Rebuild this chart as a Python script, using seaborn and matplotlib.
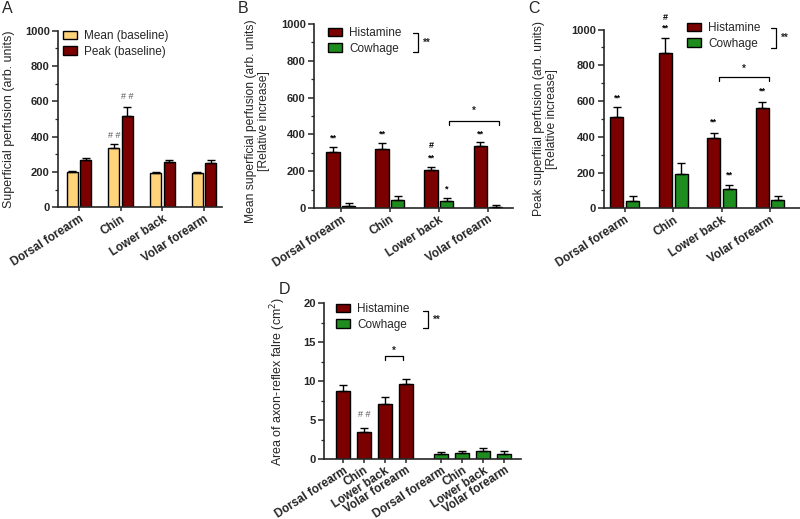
import numpy as np
import pandas as pd
import matplotlib
matplotlib.use("Agg")
import matplotlib.pyplot as plt
import seaborn as sns
from matplotlib.patches import Patch
from matplotlib.lines import Line2D
from matplotlib.ticker import MultipleLocator

# ---------------- data ----------------
sites = ["Dorsal forearm", "Chin", "Lower back", "Volar forearm"]

a_mean = [200, 335, 195, 193]
a_mean_err = [7, 22, 5, 9]
a_peak = [268, 518, 255, 252]
a_peak_err = [12, 52, 11, 15]

b_hist = [304, 322, 206, 339]
b_hist_err = [29, 33, 19, 20]
b_cow = [13, 43, 40, 4]
b_cow_err = [16, 24, 14, 12]

c_hist = [511, 868, 391, 563]
c_hist_err = [57, 87, 32, 33]
c_cow = [43, 194, 107, 47]
c_cow_err = [27, 60, 25, 23]

d_hist = [8.75, 3.5, 7.05, 9.6]
d_hist_err = [0.7, 0.5, 0.9, 0.65]
d_cow = [0.6, 0.77, 1.0, 0.6]
d_cow_err = [0.3, 0.22, 0.38, 0.43]

YELLOW = "#FFD37A"
RED = "#7B0000"
GREEN = "#1E8C1E"

sns.set_theme(style="ticks")
plt.rcParams["font.family"] = ["Liberation Sans", "DejaVu Sans"]
plt.rcParams["axes.linewidth"] = 1.2

W, H = 800, 519
fig = plt.figure(figsize=(W / 100, H / 100), dpi=100)


def ax_px(l, r, t, b):
    return fig.add_axes([l / W, 1 - b / H, (r - l) / W, (b - t) / H])


def fx(x):
    return x / W


def fy(y):
    return 1 - y / H


def style_axis(ax, ymax, major, minor):
    sns.despine(ax=ax)
    ax.set_ylim(0, ymax)
    ax.yaxis.set_major_locator(MultipleLocator(major))
    ax.yaxis.set_minor_locator(MultipleLocator(minor))
    ax.tick_params(axis="y", which="major", length=4, width=1.1, labelsize=8, pad=2)
    ax.tick_params(axis="y", which="minor", length=2, width=0.9)
    ax.tick_params(axis="x", length=3, width=1.1, labelsize=8.5, pad=1)
    for t in ax.get_yticklabels():
        t.set_fontweight("bold")
    ax.set_xlabel("")


def add_errs(ax, errs):
    pos = []
    for cont, err in zip(ax.containers, errs):
        xs = [p.get_x() + p.get_width() / 2 for p in cont]
        ys = [p.get_height() for p in cont]
        ax.errorbar(xs, ys, yerr=[np.zeros(len(err)), err], fmt="none",
                    ecolor="black", elinewidth=1, capsize=3, capthick=1, zorder=3)
        pos.append(xs)
    return pos


def set_xlabels(ax, ticks, labels):
    ax.set_xticks(ticks)
    ax.set_xticklabels(labels, rotation=33, ha="right", rotation_mode="anchor",
                       fontweight="bold")


def grouped(ax, v1, e1, v2, e2, names, colors):
    df = pd.DataFrame({"site": sites * 2, "value": v1 + v2,
                       "group": [names[0]] * 4 + [names[1]] * 4})
    sns.barplot(data=df, x="site", y="value", hue="group", order=sites,
                hue_order=names, palette=colors, width=0.65, gap=0.18,
                edgecolor="black", linewidth=1, errorbar=None, legend=False,
                ax=ax, saturation=1)
    pos = add_errs(ax, [e1, e2])
    set_xlabels(ax, range(4), sites)
    return pos


def legend(ax, names, colors, x, y):
    handles = [Patch(facecolor=c, edgecolor="black", linewidth=1, label=n)
               for n, c in zip(names, colors)]
    ax.legend(handles=handles, loc="upper left", bbox_to_anchor=(fx(x), fy(y)),
              bbox_transform=fig.transFigure, frameon=False, fontsize=8.5,
              handlelength=1.2, handleheight=0.75, handletextpad=0.6,
              labelspacing=0.3, borderpad=0, borderaxespad=0)


def group_bracket(x, y0, y1):
    fig.add_artist(Line2D([fx(x - 5), fx(x), fx(x), fx(x - 5)],
                          [fy(y0), fy(y0), fy(y1), fy(y1)], color="black", lw=0.9))
    fig.text(fx(x + 5), fy((y0 + y1) / 2), "**", fontsize=7, fontweight="bold",
             va="center", ha="left")


def comp_bracket(ax, x0, x1, y, drop, ytxt):
    ax.plot([x0, x0, x1, x1], [y - drop, y, y, y - drop], color="black", lw=0.9,
            clip_on=False)
    ax.text((x0 + x1) / 2, ytxt, "*", ha="center", va="center", fontsize=7,
            fontweight="bold")


def mark(ax, x, y, s, gray=False):
    ax.text(x, y, s, ha="center", va="center", fontsize=6.5 if not gray else 6.5,
            fontweight="bold" if not gray else "normal",
            color="#555555" if gray else "black")


# ---------------- Panel A ----------------
axA = ax_px(58, 222, 30.8, 207.3)
pA = grouped(axA, a_mean, a_mean_err, a_peak, a_peak_err,
             ["Mean (baseline)", "Peak (baseline)"], [YELLOW, RED])
axA.set_xlim(-0.5, 3.43)
style_axis(axA, 1000, 200, 100)
axA.set_ylabel("Superficial perfusion (arb. units)", fontsize=9)
axA.yaxis.set_label_coords(-0.262, 0.5)
legend(axA, ["Mean (baseline)", "Peak (baseline)"], [YELLOW, RED], 63, 30)
mark(axA, pA[0][1], 404, "# #", gray=True)
mark(axA, pA[1][1], 625, "# #", gray=True)

# ---------------- Panel B ----------------
axB = ax_px(314, 513, 24, 208)
pB = grouped(axB, b_hist, b_hist_err, b_cow, b_cow_err,
             ["Histamine", "Cowhage"], [RED, GREEN])
axB.set_xlim(-0.55, 3.51)
style_axis(axB, 1000, 200, 100)
axB.set_ylabel("Mean superficial perfusion (arb. units)\n[Relative increase]",
               fontsize=8.7, linespacing=1.1)
axB.yaxis.set_label_coords(-0.221, 0.47)
legend(axB, ["Histamine", "Cowhage"], [RED, GREEN], 328, 27)
group_bracket(418, 33, 52)
for i in [0, 1, 3]:
    mark(axB, pB[0][i], b_hist[i] + b_hist_err[i] + 45, "**")
mark(axB, pB[0][2], 270, "**")
mark(axB, pB[0][2], 337, "#")
mark(axB, pB[1][2], 103, "*")
comp_bracket(axB, 2.2, 3.22, 475, 22, 529)

# ---------------- Panel C ----------------
axC = ax_px(604, 800, 29.5, 208.3)
pC = grouped(axC, c_hist, c_hist_err, c_cow, c_cow_err,
             ["Histamine", "Cowhage"], [RED, GREEN])
axC.set_xlim(-0.43, 3.62)
style_axis(axC, 1000, 200, 100)
axC.set_ylabel("Peak superfiial perfusion (arb. units)\n[Relative increase]",
               fontsize=8.7, linespacing=1.1)
axC.yaxis.set_label_coords(-0.235, 0.5)
legend(axC, ["Histamine", "Cowhage"], [RED, GREEN], 687, 22)
group_bracket(776, 28, 48)
mark(axC, pC[0][0], 615, "**")
mark(axC, pC[0][1], 1006, "**")
mark(axC, pC[0][1], 1068, "#")
mark(axC, pC[0][2], 483, "**")
mark(axC, pC[0][3], 655, "**")
mark(axC, pC[1][2], 184, "**")
comp_bracket(axC, 1.94, 2.97, 733, 20, 780)

# ---------------- Panel D ----------------
axD = ax_px(324, 521, 303, 459)
d_pos = np.r_[np.arange(4), np.arange(4) + 4.7]
dfD = pd.DataFrame({"pos": d_pos, "value": d_hist + d_cow,
                    "agent": ["Histamine"] * 4 + ["Cowhage"] * 4})
sns.barplot(data=dfD, x="pos", y="value", hue="agent", native_scale=True,
            dodge=False, hue_order=["Histamine", "Cowhage"],
            palette=[RED, GREEN], width=0.67, edgecolor="black", linewidth=1,
            errorbar=None, legend=False, ax=axD, saturation=1)
pD = add_errs(axD, [d_hist_err, d_cow_err])
set_xlabels(axD, d_pos, sites * 2)
axD.set_xlim(-0.9, 8.5)
style_axis(axD, 20, 5, 2.5)
axD.set_ylabel("Area of axon-reflex falre (cm$^2$)", fontsize=9)
axD.yaxis.set_label_coords(-0.183, 0.5)
legend(axD, ["Histamine", "Cowhage"], [RED, GREEN], 336, 303)
group_bracket(428, 311, 328)
mark(axD, pD[0][1], 5.72, "# #", gray=True)
comp_bracket(axD, 2.0, 2.87, 13.16, 0.45, 13.9)

# ---------------- panel letters ----------------
for s, x, y in [("A", 2, 1), ("B", 238, 1), ("C", 528, 1), ("D", 279, 282)]:
    fig.text(fx(x), fy(y), s, fontsize=11.5, va="top", ha="left")

fig.savefig("out.png", dpi=100)
